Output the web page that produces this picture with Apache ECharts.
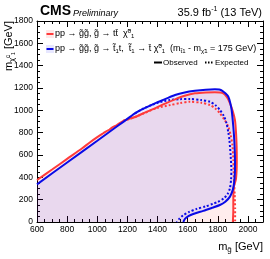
<!DOCTYPE html>
<html><head><meta charset="utf-8">
<script src="https://cdn.jsdelivr.net/npm/echarts@6/dist/echarts.min.js"></script>
<style>html,body{margin:0;padding:0;background:#fff}#c{width:270px;height:259px}</style>
</head><body><div id="c"></div>
<script>
// x: gluino mass [GeV], y: neutralino mass [GeV]
const xTicks = [600, 800, 1000, 1200, 1400, 1600, 1800, 2000];
const yTicks = [0, 200, 400, 600, 800, 1000, 1200, 1400, 1600, 1800];

const redObs = [[600,376],[700,470],[800,565],[900,660],[950,712],[1000,760],[1040,795],[1060,812],[1080,826],[1100,848],[1130,868],[1173,906],[1250,940],[1320,982],[1383,1018],[1450,1060],[1516,1098],[1580,1130],[1648,1152],[1720,1160],[1781,1161],[1836,1152],[1862,1115],[1881,1063],[1900,990],[1914,913],[1921,800],[1925,674],[1926,560],[1925,465],[1920,380],[1907,316],[1903,200],[1903,107],[1900,0]];

const redExp = [[1173,906],[1250,938],[1320,980],[1400,1022],[1483,1047],[1550,1065],[1615,1077],[1690,1068],[1748,1047],[1785,1015],[1814,973],[1847,910],[1870,853],[1885,780],[1897,690],[1903,560],[1905,465],[1908,350],[1912,250],[1915,120],[1915,0]];

const blueObs = [[600,337],[800,533],[1000,728],[1100,826],[1173,897],[1250,973],[1300,1010],[1383,1063],[1450,1100],[1516,1137],[1580,1160],[1648,1175],[1720,1185],[1781,1188],[1810,1186],[1830,1175],[1852,1150],[1870,1122],[1882,1070],[1892,1003],[1903,853],[1910,720],[1914,555],[1914,465],[1908,350],[1900,290],[1881,227],[1850,182],[1814,152],[1760,126],[1704,100],[1637,72],[1605,52],[1582,28],[1571,0]];

const blueExp = [[1250,973],[1300,1012],[1400,1068],[1483,1092],[1550,1100],[1615,1101],[1690,1092],[1748,1077],[1785,1045],[1814,1003],[1840,950],[1858,883],[1870,800],[1877,734],[1885,600],[1890,470],[1888,380],[1880,300],[1865,250],[1840,212],[1800,180],[1770,165],[1720,140],[1660,118],[1610,90],[1571,60],[1545,30],[1527,0]];

const redFillPoly = [[600,0]].concat(redObs);
const blueFillPoly = [[600,0]].concat(blueObs);

const FONT = 'Liberation Sans, Arial, Helvetica, sans-serif';
const RED = '#ff3b3b', BLUE = '#0a0ae6';

function fillSeries(poly, color) {
  return {
    type: 'custom', xAxisIndex: 0, yAxisIndex: 0, clip: true, silent: true, z: 1,
    data: [poly[0]],
    renderItem: function (params, api) {
      const pts = poly.map(p => api.coord(p));
      return { type: 'polygon', shape: { points: pts }, style: { fill: color, stroke: null } };
    }
  };
}
function lineSeries(data, color, dash) {
  return {
    type: 'line', xAxisIndex: 0, yAxisIndex: 0, data: data, showSymbol: false, symbol: 'none',
    smooth: 0.25, z: 3, silent: true,
    lineStyle: { color: color, width: 2, type: dash ? [2, 2] : 'solid' }
  };
}
const tickLbl = { color: '#000', fontSize: 8.5, fontFamily: FONT };
function xAx(pos, major) {
  return {
    type: 'value', min: 600, max: 2100, interval: major ? 200 : 50, position: pos,
    axisLine: { show: major, onZero: false, lineStyle: { color: '#000', width: 1 } },
    axisTick: { show: true, inside: true, length: major ? 6 : 3, lineStyle: { color: '#000', width: 1 } },
    splitLine: { show: false },
    axisLabel: (pos === 'bottom' && major) ? Object.assign({ show: true, margin: 3, showMaxLabel: false,
      formatter: v => xTicks.indexOf(v) >= 0 ? String(v) : '' }, tickLbl) : { show: false }
  };
}
function yAx(pos) {
  return {
    type: 'value', min: 0, max: 1800, interval: 200, position: pos,
    axisLine: { show: true, onZero: false, lineStyle: { color: '#000', width: 1 } },
    axisTick: { show: true, inside: true, length: 6, lineStyle: { color: '#000', width: 1 } },
    minorTick: { show: true, splitNumber: 4, length: 3, lineStyle: { color: '#000', width: 1 } },
    splitLine: { show: false },
    axisLabel: pos === 'left' ? Object.assign({ show: true, margin: 4,
      formatter: v => yTicks.indexOf(v) >= 0 ? String(v) : '' }, tickLbl) : { show: false }
  };
}

const chart = echarts.init(document.getElementById('c'), null, { renderer: 'canvas' });
const legFont = 9;
const legRich = {
  sub: { fontSize: 6, fontFamily: FONT, fill: '#000', padding: [5, 0, 0, 0] },
  sup: { fontSize: 6, fontFamily: FONT, fill: '#000', padding: [0, 0, 5, 0] }
};

chart.setOption({
  animation: false,
  backgroundColor: '#fff',
  grid: { left: 37, right: 7, top: 21, bottom: 37, containLabel: false },
  xAxis: [xAx('bottom', true), xAx('bottom', false), xAx('top', true), xAx('top', false)],
  yAxis: [yAx('left'), yAx('right')],
  series: [
    fillSeries(redFillPoly, 'rgba(255,0,0,0.07)'),
    fillSeries(blueFillPoly, 'rgba(0,0,255,0.085)'),
    lineSeries(redExp, RED, true),
    lineSeries(blueExp, BLUE, true),
    lineSeries(redObs, RED, false),
    lineSeries(blueObs, BLUE, false)
  ],
  graphic: [
    { type: 'text', x: 40, y: 11, z: 10, style: { text: 'CMS', fontSize: 14, fontWeight: 'bold', fontFamily: FONT, fill: '#000', textVerticalAlign: 'middle' } },
    { type: 'text', x: 73, y: 13, z: 10, style: { text: 'Preliminary', fontSize: 9, fontStyle: 'italic', fontFamily: FONT, fill: '#000', textVerticalAlign: 'middle' } },
    { type: 'text', x: 262, y: 13, z: 10, style: { text: '35.9 fb{sup|-1} (13 TeV)', fontSize: 11, fontFamily: FONT, fill: '#000', textAlign: 'right', textVerticalAlign: 'middle',
      rich: { sup: { fontSize: 7, fontFamily: FONT, fill: '#000', padding: [0, 0, 7, 0] } } } },
    // y-axis title
    { type: 'text', x: 9, y: 21, rotation: Math.PI / 2, z: 10, style: { text: 'm{sub|χ̃}{ss|0}{sb|1} [GeV]', fontSize: 11, fontFamily: FONT, fill: '#000', textAlign: 'right', textVerticalAlign: 'middle',
      rich: { sub: { fontSize: 8, fontFamily: FONT, fill: '#000', padding: [5, 0, 0, 0] }, ss: { fontSize: 5, fontFamily: FONT, fill: '#000', padding: [0, 0, 1, 0] }, sb: { fontSize: 5, fontFamily: FONT, fill: '#000', padding: [10, 0, 0, 0] } } } },
    // x-axis title
    { type: 'text', x: 263, y: 247, z: 10, style: { text: 'm{sub|g̃} [GeV]', fontSize: 11, fontFamily: FONT, fill: '#000', textAlign: 'right', textVerticalAlign: 'middle',
      rich: { sub: { fontSize: 8, fontFamily: FONT, fill: '#000', padding: [5, 0, 0, 0] } } } },
    // legend
    { type: 'rect', z: 10, shape: { x: 46, y: 30, width: 8, height: 8 }, style: { fill: 'rgba(255,0,0,0.09)' } },
    { type: 'line', z: 11, shape: { x1: 46.5, y1: 34, x2: 53.5, y2: 34 }, style: { stroke: RED, lineWidth: 2 } },
    { type: 'rect', z: 10, shape: { x: 46, y: 45, width: 8, height: 8 }, style: { fill: 'rgba(60,60,255,0.12)' } },
    { type: 'line', z: 11, shape: { x1: 46.5, y1: 49, x2: 53.5, y2: 49 }, style: { stroke: BLUE, lineWidth: 2 } },
    { type: 'text', x: 55, y: 34, z: 10, style: { text: 'pp → g̃g̃, g̃ → tt̄  χ̃{sup|0}{sub|1}', fontSize: legFont, fontFamily: FONT, fill: '#000', textVerticalAlign: 'middle', rich: legRich } },
    { type: 'text', x: 55, y: 49, z: 10, style: { text: 'pp → g̃g̃, g̃ → t̃{sub|1}t,  t̃{sub|1} → t̄ χ̃{sup|0}{sub|1}  (m{sub|t̃1} - m{sub|χ̃1} = 175 GeV)', fontSize: legFont, fontFamily: FONT, fill: '#000', textVerticalAlign: 'middle', rich: legRich } },
    { type: 'line', z: 11, shape: { x1: 154, y1: 62.5, x2: 162, y2: 62.5 }, style: { stroke: '#000', lineWidth: 2 } },
    { type: 'text', x: 163, y: 62.5, z: 10, style: { text: 'Observed', fontSize: 8, fontFamily: FONT, fill: '#000', textVerticalAlign: 'middle' } },
    { type: 'line', z: 11, shape: { x1: 205, y1: 62.5, x2: 214, y2: 62.5 }, style: { stroke: '#000', lineWidth: 2, lineDash: [1.5, 1.5] } },
    { type: 'text', x: 215, y: 62.5, z: 10, style: { text: 'Expected', fontSize: 8, fontFamily: FONT, fill: '#000', textVerticalAlign: 'middle' } }
  ]
});
</script></body></html>
